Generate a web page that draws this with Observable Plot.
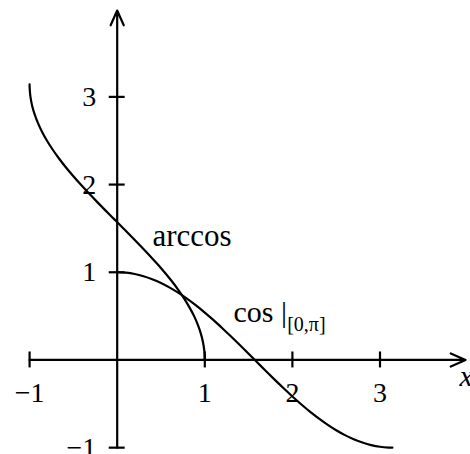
<!DOCTYPE html>
<html>
<head>
<meta charset="utf-8">
<script src="https://cdn.jsdelivr.net/npm/d3@7"></script>
<script src="https://cdn.jsdelivr.net/npm/@observablehq/plot@0.6"></script>
<style>
  html, body { margin: 0; padding: 0; background: #fff; }
  svg { display: block; }
  svg text { font-family: "Liberation Serif", serif !important; }
</style>
</head>
<body>
<div id="chart"></div>
<script>
// Sampled angle t in [0, π] and the value of cos at each sample.
const angle = [0, 0.1, 0.2, 0.3, 0.4, 0.5, 0.6, 0.7, 0.8, 0.9, 1.0, 1.1, 1.2, 1.3, 1.4, 1.5,
  1.6, 1.7, 1.8, 1.9, 2.0, 2.1, 2.2, 2.3, 2.4, 2.5, 2.6, 2.7, 2.8, 2.9, 3.0, 3.1, 3.1416];
const cosValue = [1.000, 0.995, 0.980, 0.955, 0.921, 0.878, 0.825, 0.765, 0.697, 0.622, 0.540,
  0.454, 0.362, 0.267, 0.170, 0.071, -0.029, -0.129, -0.227, -0.323, -0.416, -0.505, -0.589,
  -0.666, -0.737, -0.801, -0.857, -0.904, -0.942, -0.971, -0.990, -0.999, -1.000];

// Axis ticks and their labels
const xTicks = [-1, 1, 2, 3];
const xTickLabels = ["\u22121", "1", "2", "3"];
const yTicks = [-1, 1, 2, 3];
const yTickLabels = ["\u22121", "1", "2", "3"];

// cos restricted to [0, π]: points (t, cos t); arccos is its mirror image (cos t, t)
const cosCurve = angle.map((t, i) => ({x: t, y: cosValue[i]}));
const arccosCurve = angle.map((t, i) => ({x: cosValue[i], y: t}));

const font = "Liberation Serif";
const ink = "#000";
const lw = 2.2;

const chart = Plot.plot({
  width: 470,
  height: 454,
  marginTop: 0, marginRight: 0, marginBottom: 0, marginLeft: 0,
  style: {fontFamily: font, background: "#fff"},
  x: {domain: [-1.332, 4.033], axis: null},
  y: {domain: [-1.078, 4.099], axis: null},
  marks: [
    // axes with arrowheads
    Plot.arrow([0], {x1: -1, y1: 0, x2: 3.976, y2: 0, stroke: ink, strokeWidth: lw, headLength: 11, headAngle: 48}),
    Plot.arrow([0], {x1: 0, y1: -1, x2: 0, y2: 3.985, stroke: ink, strokeWidth: lw, headLength: 11, headAngle: 48}),
    // tick marks
    Plot.ruleX(xTicks, {x: d => d, y1: -0.091, y2: 0.091, stroke: ink, strokeWidth: lw}),
    Plot.ruleY(yTicks, {y: d => d, x1: -0.091, x2: 0.091, stroke: ink, strokeWidth: lw}),
    // tick labels
    Plot.text(xTicks, {x: d => d, y: 0, text: (d, i) => xTickLabels[i], dy: 33, fontSize: 28, fill: ink}),
    Plot.text(yTicks, {x: 0, y: d => d, text: (d, i) => yTickLabels[i], dx: -21, textAnchor: "end", fontSize: 28, fill: ink}),
    // curves
    Plot.line(arccosCurve, {x: "x", y: "y", curve: "catmull-rom", stroke: ink, strokeWidth: lw}),
    Plot.line(cosCurve, {x: "x", y: "y", curve: "catmull-rom", stroke: ink, strokeWidth: lw}),
    // curve labels
    Plot.text(["arccos"], {x: 0.403, y: 1.294, textAnchor: "start", lineAnchor: "bottom", fontSize: 31, fill: ink}),
    Plot.text(["cos |"], {x: 1.328, y: 0.428, textAnchor: "start", lineAnchor: "bottom", fontSize: 30, fill: ink}),
    Plot.text(["[0,\u03c0]"], {x: 1.94, y: 0.335, textAnchor: "start", lineAnchor: "bottom", fontSize: 20, fill: ink}),
    // axis name
    Plot.text(["x"], {x: 3.908, y: -0.302, textAnchor: "start", lineAnchor: "bottom", fontSize: 30, fontStyle: "italic", fill: ink})
  ]
});

document.getElementById("chart").appendChild(chart);
</script>
</body>
</html>
